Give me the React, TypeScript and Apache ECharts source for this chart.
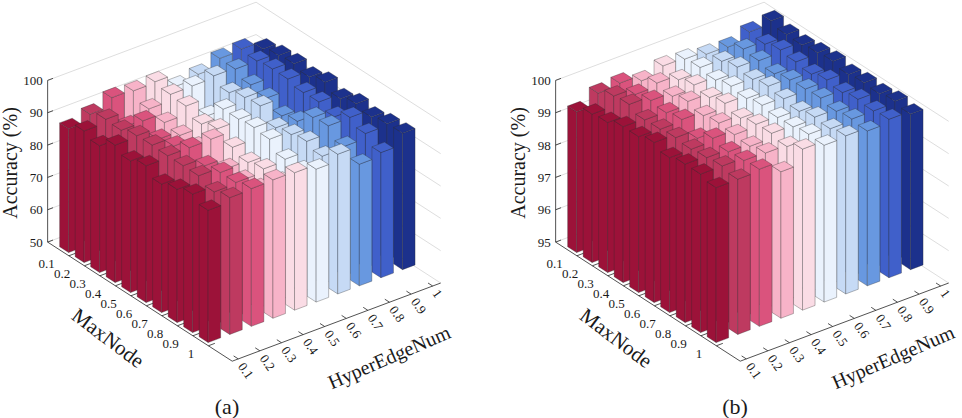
import React, { useEffect, useRef } from "react";
import * as echarts from "echarts";

// ---- data ----
const maxNodeLabels = ["0.1", "0.2", "0.3", "0.4", "0.5", "0.6", "0.7", "0.8", "0.9", "1"];
const hyperEdgeLabels = ["0.1", "0.2", "0.3", "0.4", "0.5", "0.6", "0.7", "0.8", "0.9", "1"];
const zTicksA = [50, 60, 70, 80, 90, 100];
const zTicksB = [95, 96, 97, 98, 99, 100];
const panelNames = ["(a)", "(b)"];
const barColors = [
  "#9c1239", "#be3a60", "#da537d", "#f7b3c8", "#fadce5",
  "#eaf2fd", "#c6daf5", "#6898e0", "#4060ca", "#1c318c",
];

// rows: MaxNode 0.1..1, columns: HyperEdgeNum 0.1..1
const accuracyA: number[][] = [
  [88.3, 90.3, 92.9, 92.5, 92.8, 89.0, 90.1, 92.5, 92.9, 90.4],
  [90.7, 91.8, 87.3, 90.0, 92.0, 92.1, 92.7, 92.3, 92.3, 91.5],
  [89.2, 91.5, 91.9, 88.9, 91.5, 86.0, 90.6, 90.5, 92.9, 92.0],
  [92.5, 92.9, 89.3, 88.0, 89.0, 91.1, 92.2, 89.5, 92.9, 91.0],
  [90.7, 93.1, 90.3, 87.5, 90.6, 91.1, 92.7, 87.1, 91.8, 92.5],
  [92.3, 92.9, 92.9, 93.0, 88.0, 91.6, 89.0, 88.5, 92.0, 90.5],
  [89.7, 92.9, 90.4, 87.0, 86.4, 91.1, 90.0, 92.8, 90.5, 92.0],
  [91.2, 92.9, 91.4, 86.5, 87.5, 88.0, 91.0, 93.3, 93.4, 91.0],
  [92.8, 91.0, 91.4, 87.0, 86.5, 87.5, 89.5, 90.0, 91.5, 92.0],
  [90.9, 92.3, 92.6, 92.8, 92.5, 91.1, 93.2, 87.6, 88.7, 92.2],
];
const accuracyB: number[][] = [
  [99.35, 99.68, 99.74, 99.56, 99.77, 99.73, 99.63, 99.6, 99.82, 99.91],
  [99.59, 99.9, 99.7, 99.8, 99.65, 99.78, 99.72, 99.85, 99.75, 99.8],
  [99.64, 99.95, 99.82, 99.7, 99.8, 99.7, 99.85, 99.8, 99.88, 99.78],
  [99.82, 99.78, 99.75, 99.85, 99.72, 99.82, 99.78, 99.7, 99.82, 99.85],
  [99.82, 99.8, 99.85, 99.72, 99.85, 99.75, 99.88, 99.82, 99.75, 99.9],
  [99.95, 99.85, 99.58, 99.8, 99.7, 99.85, 99.8, 99.85, 99.88, 99.8],
  [99.79, 99.8, 99.89, 99.75, 99.82, 99.78, 99.72, 99.88, 99.8, 99.85],
  [99.9, 99.85, 99.78, 99.7, 99.85, 99.8, 99.85, 99.78, 99.9, 99.82],
  [99.9, 99.9, 99.82, 99.8, 99.75, 99.88, 99.8, 99.85, 99.85, 99.9],
  [99.79, 99.8, 99.86, 99.53, 99.98, 99.85, 99.89, 99.79, 99.9, 99.81],
];

// ---- projection / layout ----
const ORIGIN = [33.3, 245.4];
const MV = [15.5, 10.0];
const HV = [21.6, -8.1];
const ZH = 161.7;
const PANEL_DX = 508;
const M_RANGE = [0.13, 12.04];
const H_RANGE = [0.57, 10.22];
const HALF_W = 0.29;
const FONT = "'Liberation Serif', 'Times New Roman', serif";
const TEXT = "#1a1a1a";

function proj(panel: number, m: number, h: number, t: number): number[] {
  return [
    ORIGIN[0] + panel * PANEL_DX + m * MV[0] + h * HV[0],
    ORIGIN[1] + m * MV[1] + h * HV[1] - t * ZH,
  ];
}

function buildGraphics(): any[] {
  const els: any[] = [];
  [zTicksA, zTicksB].forEach((ticks, p) => {
    const zmin = ticks[0];
    const zmax = ticks[ticks.length - 1];
    const [m0, m1] = M_RANGE;
    const [h0, h1] = H_RANGE;
    // back wall grid lines
    ticks.forEach((zv) => {
      const t = (zv - zmin) / (zmax - zmin);
      const a = proj(p, m0, h0, t);
      const b = proj(p, m0, h1, t);
      const c = proj(p, m1, h1, t);
      els.push({ type: "polyline", z: 1, shape: { points: [a, b, c] }, style: { stroke: "#dedede", lineWidth: 1, fill: null } });
      const tk = proj(p, m0, h0 + 0.25, t);
      els.push({ type: "line", z: 3, shape: { x1: a[0], y1: a[1], x2: tk[0], y2: tk[1] }, style: { stroke: "#262626", lineWidth: 0.8 } });
      els.push({
        type: "text", z: 3, x: a[0] - 5, y: a[1],
        style: { text: String(zv), fontFamily: FONT, fontSize: 13, fill: TEXT, align: "right", verticalAlign: "middle" },
      });
    });
    // axis lines
    const zb = proj(p, m0, h0, 0);
    const zt = proj(p, m0, h0, 1);
    const fc = proj(p, m1, h0, 0);
    const rc = proj(p, m1, h1, 0);
    els.push({ type: "line", z: 3, shape: { x1: zb[0], y1: zb[1], x2: zt[0], y2: zt[1] }, style: { stroke: "#262626", lineWidth: 0.8 } });
    els.push({ type: "line", z: 3, shape: { x1: zb[0], y1: zb[1], x2: fc[0], y2: fc[1] }, style: { stroke: "#262626", lineWidth: 0.8 } });
    els.push({ type: "line", z: 3, shape: { x1: fc[0], y1: fc[1], x2: rc[0], y2: rc[1] }, style: { stroke: "#262626", lineWidth: 0.8 } });
    // MaxNode ticks & labels
    maxNodeLabels.forEach((lab, i) => {
      const m = i + 1.5;
      const a = proj(p, m, h0, 0);
      const b = proj(p, m, h0 + 0.3, 0);
      els.push({ type: "line", z: 3, shape: { x1: a[0], y1: a[1], x2: b[0], y2: b[1] }, style: { stroke: "#262626", lineWidth: 0.8 } });
      els.push({
        type: "text", z: 3, x: a[0] - 14, y: a[1] + 8,
        style: { text: lab, fontFamily: FONT, fontSize: 13, fill: TEXT, align: "right", verticalAlign: "middle" },
      });
    });
    // HyperEdgeNum ticks & labels
    hyperEdgeLabels.forEach((lab, i) => {
      const h = i + 0.85;
      const a = proj(p, m1, h, 0);
      const b = proj(p, m1 - 0.3, h, 0);
      els.push({ type: "line", z: 3, shape: { x1: a[0], y1: a[1], x2: b[0], y2: b[1] }, style: { stroke: "#262626", lineWidth: 0.8 } });
      els.push({
        type: "text", z: 3, x: a[0] + 3, y: a[1] + 5, rotation: (-55 * Math.PI) / 180,
        style: { text: lab, fontFamily: FONT, fontSize: 13, fill: TEXT, align: "left", verticalAlign: "middle" },
      });
    });
    const dx = p * PANEL_DX;
    els.push({
      type: "text", z: 3, x: 10 + dx, y: 163, rotation: Math.PI / 2,
      style: { text: "Accuracy (%)", fontFamily: FONT, fontSize: 20, fill: TEXT, align: "center", verticalAlign: "middle" },
    });
    els.push({
      type: "text", z: 3, x: 108 + dx, y: 338, rotation: (-37 * Math.PI) / 180,
      style: { text: "MaxNode", fontFamily: FONT, fontSize: 21, fill: TEXT, align: "center", verticalAlign: "middle" },
    });
    els.push({
      type: "text", z: 3, x: 389 + dx - p * 4, y: 357, rotation: (23.5 * Math.PI) / 180,
      style: { text: "HyperEdgeNum", fontFamily: FONT, fontSize: 20, fill: TEXT, align: "center", verticalAlign: "middle" },
    });
    els.push({
      type: "text", z: 3, x: 227 + dx, y: 406,
      style: { text: panelNames[p], fontFamily: FONT, fontSize: 22, fill: TEXT, align: "center", verticalAlign: "middle" },
    });
  });
  return els;
}

function buildData(): number[][] {
  const items: number[][] = [];
  [accuracyA, accuracyB].forEach((grid, p) => {
    grid.forEach((row, mi) => {
      row.forEach((v, hi) => {
        items.push([p, mi + 1, hi + 1, v]);
      });
    });
  });
  // back-to-front painter order
  items.sort((a, b) => (a[1] - a[2]) - (b[1] - b[2]));
  return items;
}

export default function App() {
  const ref = useRef<HTMLDivElement>(null);
  useEffect(() => {
    if (!ref.current) return;
    const chart = echarts.init(ref.current, undefined, { renderer: "svg" });
    const ranges = [
      [zTicksA[0], zTicksA[zTicksA.length - 1]],
      [zTicksB[0], zTicksB[zTicksB.length - 1]],
    ];
    chart.setOption({
      animation: false,
      backgroundColor: "#ffffff",
      grid: { left: 0, right: 0, top: 0, bottom: 0 },
      xAxis: { type: "value", min: 0, max: 962, show: false },
      yAxis: { type: "value", min: 0, max: 418, inverse: true, show: false },
      graphic: buildGraphics(),
      series: [
        {
          type: "custom",
          z: 2,
          coordinateSystem: "cartesian2d",
          data: buildData(),
          encode: { x: 1, y: 2 },
          renderItem: (params: any, api: any) => {
            const p = api.value(0);
            const m = api.value(1);
            const h = api.value(2);
            const v = api.value(3);
            const [zmin, zmax] = ranges[p];
            const t = Math.max(0, (v - zmin) / (zmax - zmin));
            const m0 = m - HALF_W, m1 = m + HALF_W, h0 = h - HALF_W, h1 = h + HALF_W;
            const pt = (mm: number, hh: number, tt: number) => api.coord(proj(p, mm, hh, tt));
            const style = { fill: barColors[h - 1], stroke: "rgba(45,45,45,0.55)", lineWidth: 0.6 };
            return {
              type: "group",
              children: [
                { type: "polygon", shape: { points: [pt(m0, h0, 0), pt(m1, h0, 0), pt(m1, h0, t), pt(m0, h0, t)] }, style },
                { type: "polygon", shape: { points: [pt(m1, h0, 0), pt(m1, h1, 0), pt(m1, h1, t), pt(m1, h0, t)] }, style },
                { type: "polygon", shape: { points: [pt(m0, h0, t), pt(m1, h0, t), pt(m1, h1, t), pt(m0, h1, t)] }, style },
              ],
            };
          },
        },
      ],
    });
    return () => chart.dispose();
  }, []);
  return (
    <div
      ref={ref}
      style={{ position: "absolute", left: 0, top: 0, width: 962, height: 418, background: "#fff" }}
    />
  );
}
